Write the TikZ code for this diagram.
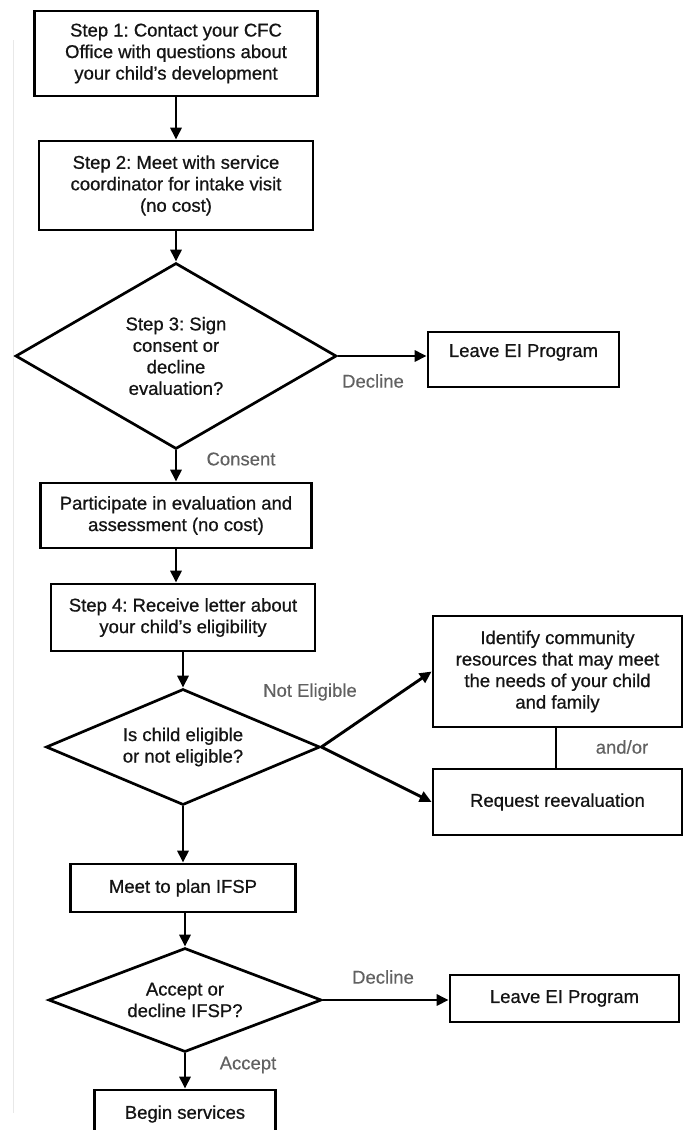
\documentclass[tikz,border=0pt]{standalone}
\usepackage{fontspec}
\setmainfont{Liberation Sans}
\newfontfamily\boxfont[FakeBold=0.7,Ligatures=TeX]{Liberation Sans}
\newfontfamily\lblfont[FakeBold=0.3,Ligatures=TeX]{Liberation Sans}
\usetikzlibrary{arrows.meta,shapes.geometric}
\begin{document}
\begin{tikzpicture}[x=1pt,y=-1pt,
  txt/.style={font=\boxfont\frenchspacing\fontsize{18.5}{21.5}\selectfont},
  box/.style={txt, draw=black, line width=2.7pt, fill=white, align=center, inner sep=0pt, text=black!92},
  dia/.style={txt, draw=black, diamond, line width=2.7pt, align=center, inner sep=0pt, text=black!92},
  lbl/.style={font=\lblfont\frenchspacing\fontsize{18.5}{21.5}\selectfont, text=black!62, inner sep=0pt},
  arr/.style={line width=2.9pt, -{Triangle[length=12pt,width=11pt]}},
  link/.style={line width=1.8pt},
]
\useasboundingbox (0,0) rectangle (688,1130);
\clip (0,0) rectangle (688,1130);
\fill[white] (0,0) rectangle (688,1130);
% faint page edge
\draw[line width=1pt, black!9] (13,40) -- (13,1113);

\node[box, minimum width=283, minimum height=85] (b1) at (176,53.5)
  {Step 1: Contact your CFC\\Office with questions about\\your child’s development};
\node[box, minimum width=274, minimum height=89] (b2) at (176,185.5)
  {Step 2: Meet with service\\coordinator for intake visit\\(no cost)};
\node[dia, aspect=1.73, minimum width=321, minimum height=186] (d1) at (176,356)
  {Step 3: Sign\\consent or\\decline\\evaluation?};
\node[box, minimum width=191, minimum height=55] (l1) at (523.5,359.5)
  {\raisebox{7pt}[\height][\depth]{Leave EI Program}};
\node[box, minimum width=271, minimum height=65] (b3) at (176,515.5)
  {Participate in evaluation and\\assessment (no cost)};
\node[box, minimum width=264, minimum height=67] (b4) at (183,617.5)
  {Step 4: Receive letter about\\your child’s eligibility};
\node[dia, aspect=2.36, minimum width=274, minimum height=116] (d2) at (183,747)
  {Is child eligible\\or not eligible?};
\node[box, minimum width=249, minimum height=111] (b6) at (557.5,671.5)
  {Identify community\\resources that may meet\\the needs of your child\\and family};
\node[box, minimum width=249, minimum height=66] (b7) at (557.5,802)
  {Request reevaluation};
\node[box, minimum width=225, minimum height=48] (b5) at (183,888)
  {Meet to plan IFSP};
\node[dia, aspect=2.63, minimum width=273, minimum height=104] (d3) at (185,1000)
  {Accept or\\decline IFSP?};
\node[box, minimum width=229, minimum height=47] (l2) at (564.5,998.5)
  {Leave EI Program};
\node[box, minimum width=181, minimum height=48] (b8) at (185,1114)
  {Begin services};

% labels
\node[lbl] (lDec1) at (373,381) {Decline};
\node[lbl] (lCons) at (241,459) {Consent};
\node[lbl] (lNot) at (310,692) {Not Eligible};
\node[lbl] (lAnd) at (622,747) {and/or};
\node[lbl] (lDec2) at (383,977) {Decline};
\node[lbl] (lAcc) at (248,1065) {Accept};

% connectors
\draw[arr] (b1) -- (b2);
\draw[arr] (b2) -- (d1);
\draw[arr] (d1.east) -- (d1.east -| l1.west);
\draw[arr] (d1) -- (b3);
\draw[arr] (b3) -- (b3.south |- b4.north);
\draw[arr] (b4) -- (d2);
\draw[arr] (d2.east) -- (b6.west);
\draw[arr] (d2.east) -- (b7.west);
\draw[link] (b6.south -| 556,0) -- (b7.north -| 556,0);
\draw[arr] (d2) -- (d2.south |- b5.north);
\draw[arr] (b5.south -| d3.north) -- (d3.north);
\draw[arr] (d3.east) -- (d3.east -| l2.west);
\draw[arr] (d3) -- (b8);
\end{tikzpicture}
\end{document}
